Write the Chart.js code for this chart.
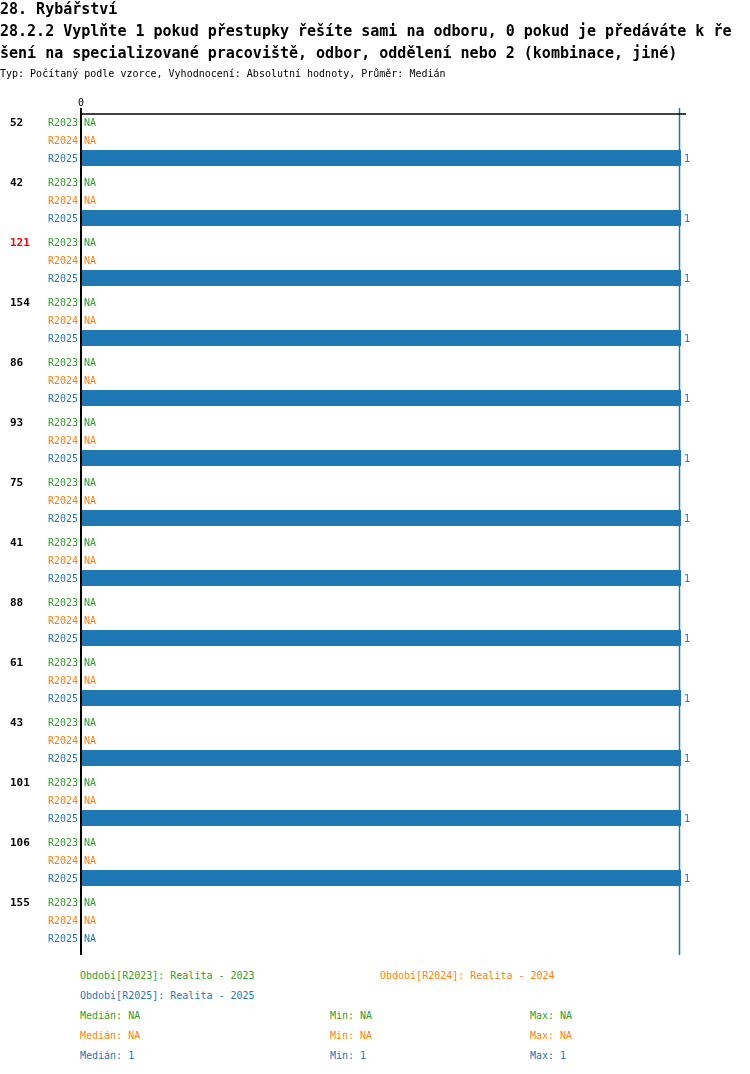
<!DOCTYPE html>
<html>
<head>
<meta charset="utf-8">
<script src="https://cdn.jsdelivr.net/npm/chart.js@4.4.1/dist/chart.umd.min.js"></script>
<style>
  body { margin: 0; background: #fff; width: 750px; height: 1074px; position: relative; overflow: hidden;
         font-family: "DejaVu Sans Mono", monospace; }
  #wrap { position: absolute; left: 0; top: 0; width: 750px; height: 960px; }
  .t { position: absolute; white-space: pre; line-height: 16px; }
  .h { font-size: 15px; font-weight: bold; color: #000; left: 0; }
  .s { font-size: 10px; line-height: 12px; }
</style>
</head>
<body>
<div id="wrap"><canvas id="report"></canvas></div>

<div class="t h" style="top:1px">28. Rybářství</div>
<div class="t h" style="top:23px">28.2.2 Vyplňte 1 pokud přestupky řešíte sami na odboru, 0 pokud je předáváte k ře</div>
<div class="t h" style="top:45px">šení na specializované pracoviště, odbor, oddělení nebo 2 (kombinace, jiné)</div>
<div class="t s" style="top:68px;left:0;color:#000">Typ: Počítaný podle vzorce, Vyhodnocení: Absolutní hodnoty, Průměr: Medián</div>

<div id="footer"></div>

<script>
const categories = ['52', '42', '121', '154', '86', '93', '75', '41', '88', '61', '43', '101', '106', '155'];
const highlighted = ['121'];
const periods = ['R2023', 'R2024', 'R2025'];
const periodNames = ['Realita - 2023', 'Realita - 2024', 'Realita - 2025'];
const r2023 = [null, null, null, null, null, null, null, null, null, null, null, null, null, null];
const r2024 = [null, null, null, null, null, null, null, null, null, null, null, null, null, null];
const r2025 = [1, 1, 1, 1, 1, 1, 1, 1, 1, 1, 1, 1, 1, null];
const xTicks = [0];

const colors = ['#2ca02c', '#ff7f0e', '#1f77b4'];
const seriesData = [r2023, r2024, r2025];
const mono = '"DejaVu Sans Mono", monospace';

function stats(arr) {
    const v = arr.filter(x => x !== null).sort((a, b) => a - b);
    if (!v.length) return { med: 'NA', min: 'NA', max: 'NA' };
    const m = v.length % 2 ? v[(v.length - 1) / 2] : (v[v.length / 2 - 1] + v[v.length / 2]) / 2;
    return { med: m, min: v[0], max: v[v.length - 1] };
}

// footer texts
const footer = document.getElementById("footer");
function addText(txt, left, centerY, color) {
    const d = document.createElement("div");
    d.className = "t s";
    d.style.left = left + "px";
    d.style.top = (centerY - 6) + "px";
    d.style.color = color;
    d.textContent = txt;
    footer.appendChild(d);
}
addText(`Období[${periods[0]}]: ${periodNames[0]}`, 80, 976, colors[0]);
addText(`Období[${periods[1]}]: ${periodNames[1]}`, 380, 976, colors[1]);
addText(`Období[${periods[2]}]: ${periodNames[2]}`, 80, 996, colors[2]);
seriesData.forEach((arr, i) => {
    const s = stats(arr);
    const y = 1016 + i * 20;
    addText(`Medián: ${s.med}`, 80, y, colors[i]);
    addText(`Min: ${s.min}`, 330, y, colors[i]);
    addText(`Max: ${s.max}`, 530, y, colors[i]);
});

// row labels, NA / values and axis lines
const rowLabels = {
    id: 'rowLabels',
    afterDatasetsDraw(chart) {
        const { ctx, chartArea, scales } = chart;
        const x0 = scales.x.getPixelForValue(0);
        ctx.save();
        ctx.font = '10px ' + mono;
        ctx.textBaseline = 'middle';
        chart.data.datasets.forEach((ds, di) => {
            const meta = chart.getDatasetMeta(di);
            meta.data.forEach((bar, i) => {
                let y = bar.y;
                if (!isFinite(y)) {
                    const w = scales.y.getPixelForValue(1) - scales.y.getPixelForValue(0);
                    y = scales.y.getPixelForValue(i) + (di - 1) * w * 0.3;
                }
                y += 1;
                ctx.fillStyle = colors[di];
                ctx.textAlign = 'right';
                ctx.fillText(ds.label, x0 - 3, y);
                ctx.textAlign = 'left';
                const v = ds.data[i];
                if (v === null) {
                    ctx.fillText('NA', x0 + 3, y);
                } else {
                    ctx.fillText(String(v), scales.x.getPixelForValue(v) + 3, y);
                }
            });
        });

        // median line of R2025
        const med = stats(r2025).med;
        if (med !== 'NA') {
            const xm = scales.x.getPixelForValue(med) - 1.5;
            ctx.strokeStyle = colors[2];
            ctx.lineWidth = 1.5;
            ctx.beginPath();
            ctx.moveTo(xm, chartArea.top - 2);
            ctx.lineTo(xm, chartArea.bottom + 5);
            ctx.stroke();
        }

        // axes
        ctx.strokeStyle = '#000';
        ctx.lineWidth = 2;
        ctx.beginPath();
        ctx.moveTo(x0, chartArea.top - 2);
        ctx.lineTo(x0, chartArea.bottom + 5);
        ctx.stroke();
        ctx.lineWidth = 1.5;
        ctx.beginPath();
        ctx.moveTo(x0, chartArea.top + 4);
        ctx.lineTo(chartArea.right + 5, chartArea.top + 4);
        ctx.stroke();
        ctx.restore();
    }
};

const ctx = document.getElementById('report').getContext('2d');
new Chart(ctx, {
    type: 'bar',
    data: {
        labels: categories,
        datasets: periods.map((p, i) => ({
            label: p,
            data: seriesData[i],
            backgroundColor: colors[i],
            borderWidth: 0,
            categoryPercentage: 0.9,
            barPercentage: 0.889
        }))
    },
    options: {
        indexAxis: 'y',
        responsive: true,
        maintainAspectRatio: false,
        animation: false,
        devicePixelRatio: 1,
        layout: { padding: { left: 10, top: 0, right: 69, bottom: 10 } },
        plugins: { legend: { display: false }, tooltip: { enabled: false } },
        scales: {
            x: {
                position: 'top',
                min: 0,
                max: 1,
                grid: { display: false, drawTicks: false },
                border: { display: false },
                afterFit: s => { s.height = 110; },
                afterBuildTicks: s => { s.ticks = xTicks.map(v => ({ value: v })); },
                ticks: {
                    padding: 1,
                    color: '#000',
                    font: { family: mono, size: 10 },
                    callback: v => String(v)
                }
            },
            y: {
                grid: { display: false, drawTicks: false },
                border: { display: false },
                afterFit: s => { s.width = 71; },
                ticks: {
                    crossAlign: 'far',
                    labelOffset: -17,
                    padding: 0,
                    autoSkip: false,
                    font: { family: mono, size: 11, weight: 'bold' },
                    color: c => highlighted.includes(categories[c.index]) ? '#ff0000' : '#000'
                }
            }
        }
    },
    plugins: [rowLabels]
});
</script>
</body>
</html>
